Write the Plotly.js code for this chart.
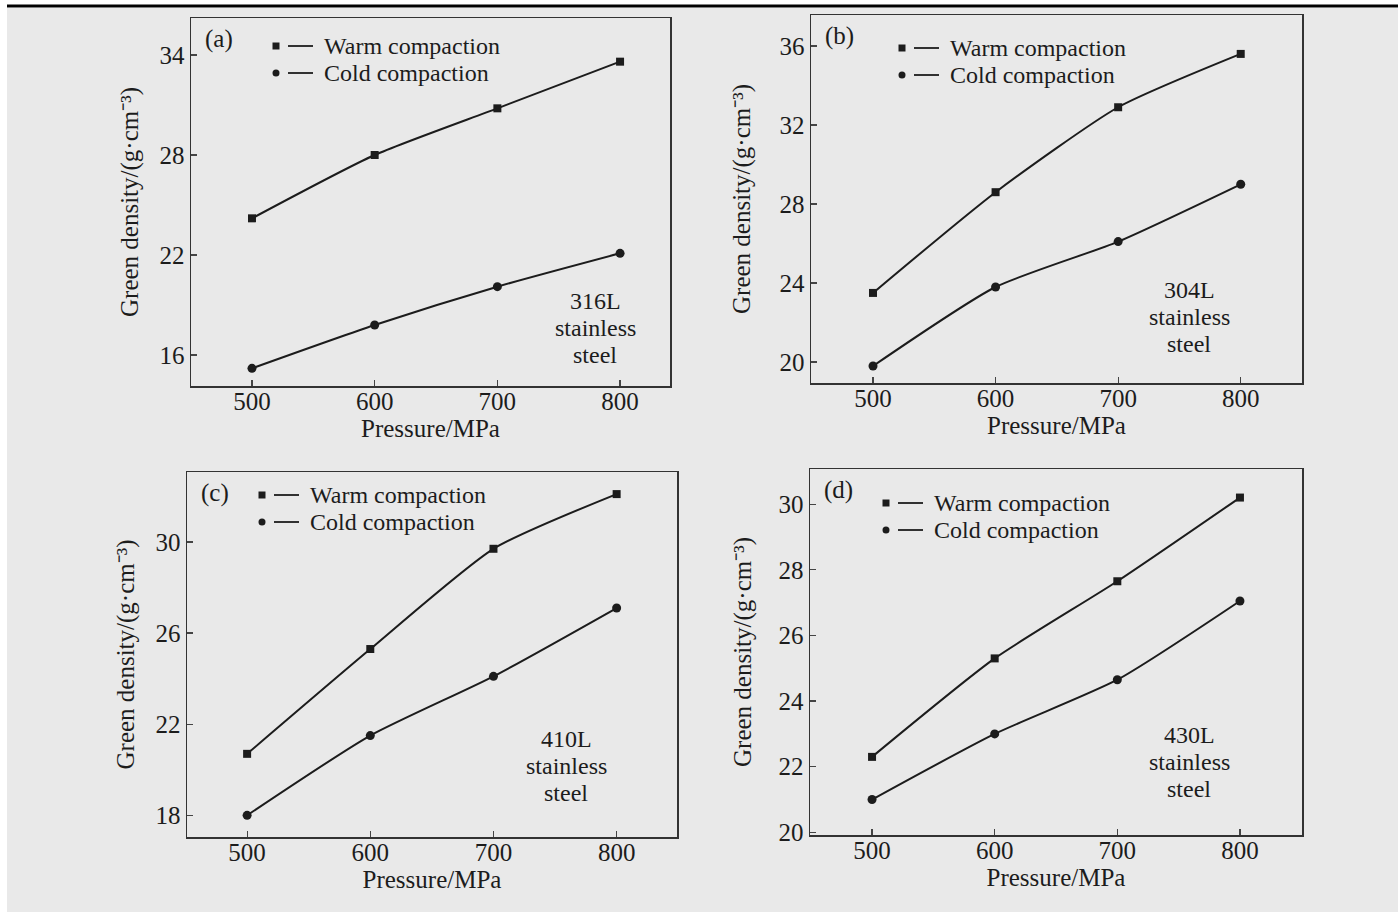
<!DOCTYPE html>
<html>
<head>
<meta charset="utf-8">
<script src="https://cdn.plot.ly/plotly-3.0.1.min.js"></script>
<style>html,body{margin:0;padding:0;background:#fff;}#chart{width:1398px;height:915px;}</style>
</head>
<body>
<div id="chart"></div>
<script>
// Data
const pressure = [500, 600, 700, 800];
const tickVals = [500, 600, 700, 800];

const warm316 = [24.2, 28.0, 30.8, 33.6];
const cold316 = [15.2, 17.8, 20.1, 22.1];

const warm304 = [23.5, 28.6, 32.9, 35.6];
const cold304 = [19.8, 23.8, 26.1, 29.0];

const warm410 = [20.7, 25.3, 29.7, 32.1];
const cold410 = [18.0, 21.5, 24.1, 27.1];

const warm430 = [22.3, 25.3, 27.65, 30.2];
const cold430 = [21.0, 23.0, 24.65, 27.05];

const yTicks316 = [16, 22, 28, 34];
const yTicks304 = [20, 24, 28, 32, 36];
const yTicks410 = [18, 22, 26, 30];
const yTicks430 = [20, 22, 24, 26, 28, 30];

const panelLabels = ['(a)', '(b)', '(c)', '(d)'];
const materialLines = [
  ['316L', 'stainless', 'steel'],
  ['304L', 'stainless', 'steel'],
  ['410L', 'stainless', 'steel'],
  ['430L', 'stainless', 'steel']
];
const seriesNames = ['Warm compaction', 'Cold compaction'];
const xTitle = 'Pressure/MPa';
const yTitle = 'Green density/(g·cm⁻³)';

const W = 1398, H = 915;
const FONT = 'Liberation Serif, Times New Roman, serif';
const INK = '#1c1c1c';
const px = v => v / W;
const py = v => 1 - v / H;

// panel geometry in pixels: [left, right, top, bottom]
const boxes = [
  [191, 670, 18, 386],
  [811, 1302, 15, 383],
  [187, 677, 472, 837],
  [810, 1302, 469, 835]
];
const xRanges = [[450.3, 840.7], [449.4, 850], [451.2, 849], [449.4, 850.6]];
const yRanges = [[14.14, 36.22], [18.94, 37.57], [17.05, 33.07], [19.92, 31.07]];
const yTickSets = [yTicks316, yTicks304, yTicks410, yTicks430];
const warmSets = [warm316, warm304, warm410, warm430];
const coldSets = [cold316, cold304, cold410, cold430];
const yTitleStandoff = [14, 22, 14, 20];

// legend anchor: [marker x, first row y]
const legendPos = [[276, 46], [902, 48], [262, 495], [886, 503]];
const legendGap = 27;
// material label: [centre x, first line y]
const matPos = [[595, 301], [1189, 290], [566, 739], [1189, 735]];
const matGap = 27;

const traces = [];
const layout = {
  width: W, height: H,
  margin: {l: 0, r: 0, t: 0, b: 0},
  paper_bgcolor: '#ffffff',
  plot_bgcolor: 'rgba(0,0,0,0)',
  font: {family: FONT, size: 25, color: INK},
  showlegend: false,
  annotations: [],
  shapes: [
    {type: 'rect', xref: 'paper', yref: 'paper', x0: px(7), x1: 1, y0: py(912), y1: py(8),
     fillcolor: '#e9e9e9', line: {width: 0}, layer: 'below'},
    {type: 'line', xref: 'paper', yref: 'paper', x0: px(7), x1: 1, y0: py(6), y1: py(6),
     line: {color: '#000', width: 3}}
  ]
};

for (let i = 0; i < 4; i++) {
  const n = i + 1;
  const xa = n === 1 ? 'x' : 'x' + n;
  const ya = n === 1 ? 'y' : 'y' + n;
  const [l, r, t, b] = boxes[i];

  traces.push({
    x: pressure, y: warmSets[i], xaxis: xa, yaxis: ya,
    name: seriesNames[0], mode: 'lines+markers',
    line: {color: INK, width: 2, shape: 'spline', smoothing: 0.6},
    marker: {symbol: 'square', size: 8, color: INK}
  });
  traces.push({
    x: pressure, y: coldSets[i], xaxis: xa, yaxis: ya,
    name: seriesNames[1], mode: 'lines+markers',
    line: {color: INK, width: 2, shape: 'spline', smoothing: 0.6},
    marker: {symbol: 'circle', size: 9, color: INK}
  });

  const axCommon = {
    showline: true, mirror: true, linecolor: '#333', linewidth: 1.5,
    showgrid: false, zeroline: false, ticks: 'inside', ticklen: 6, tickwidth: 1.2, tickcolor: '#444',
    tickfont: {family: FONT, size: 25, color: INK}, fixedrange: true
  };
  layout['xaxis' + (n === 1 ? '' : n)] = Object.assign({}, axCommon, {
    domain: [px(l), px(r)], anchor: ya, range: xRanges[i],
    tickmode: 'array', tickvals: tickVals, ticklabelstandoff: -8,
    title: {text: xTitle, font: {family: FONT, size: 25, color: INK}, standoff: 6}
  });
  layout['yaxis' + (n === 1 ? '' : n)] = Object.assign({}, axCommon, {
    domain: [py(b), py(t)], anchor: xa, range: yRanges[i],
    tickmode: 'array', tickvals: yTickSets[i],
    title: {text: yTitle, font: {family: FONT, size: 25, color: INK}, standoff: yTitleStandoff[i]}
  });

  // panel label
  layout.annotations.push({
    xref: 'paper', yref: 'paper', x: px(l + 12), y: py(t + 5),
    xanchor: 'left', yanchor: 'top', showarrow: false,
    text: panelLabels[i], font: {family: FONT, size: 25, color: INK}
  });

  // legend: marker, dash, text for each series
  const [lx, ly] = legendPos[i];
  for (let s = 0; s < 2; s++) {
    const yy = ly + s * legendGap;
    layout.shapes.push({type: s === 0 ? 'rect' : 'circle', xref: 'paper', yref: 'paper',
      x0: px(lx - 3.5), x1: px(lx + 3.5), y0: py(yy + 3.5), y1: py(yy - 3.5),
      fillcolor: INK, line: {width: 0}});
    layout.shapes.push({type: 'line', xref: 'paper', yref: 'paper',
      x0: px(lx + 12), x1: px(lx + 37), y0: py(yy), y1: py(yy),
      line: {color: INK, width: 1.8}});
    layout.annotations.push({
      xref: 'paper', yref: 'paper', x: px(lx + 46), y: py(yy),
      xanchor: 'left', yanchor: 'middle', showarrow: false,
      text: seriesNames[s], font: {family: FONT, size: 24, color: INK}
    });
  }

  // material label
  const [mx, my] = matPos[i];
  materialLines[i].forEach((txt, k) => {
    layout.annotations.push({
      xref: 'paper', yref: 'paper', x: px(mx), y: py(my + k * matGap),
      xanchor: 'center', yanchor: 'middle', showarrow: false,
      text: txt, font: {family: FONT, size: 24, color: INK}
    });
  });
}

Plotly.newPlot('chart', traces, layout, {staticPlot: true, displayModeBar: false});
</script>
</body>
</html>
